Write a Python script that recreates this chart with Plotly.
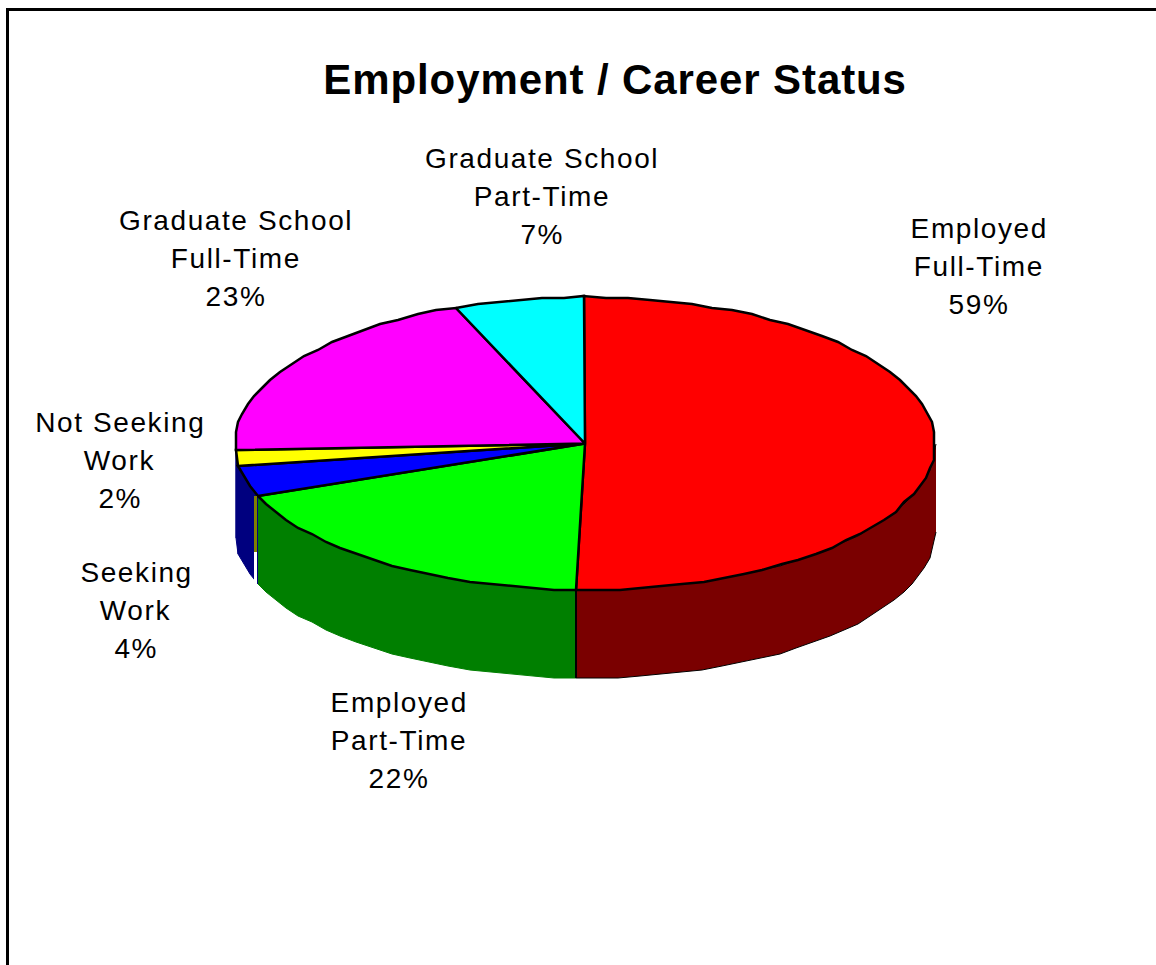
import numpy as np
import plotly.graph_objects as go

# slices clockwise from 12 o'clock, the labels add up to 117 in the source chart
label_lines = [
    ["Employed", "Full-Time"],
    ["Employed", "Part-Time"],
    ["Seeking", "Work"],
    ["Not Seeking", "Work"],
    ["Graduate School", "Full-Time"],
    ["Graduate School", "Part-Time"],
]
percents = [59, 22, 4, 2, 23, 7]
top_colors = ["#ff0000", "#00ff00", "#0000ff", "#ffff00", "#ff00ff", "#00ffff"]
# the wall left of the blue slice stays navy in the source chart
side_colors = ["#7a0000", "#007f00", "#00007f", "#00007f", "#00007f", "#007f7f"]

title_text = "Employment / Career Status"

# where the first line of each label sits, in page pixels
label_pos = [(979, 228), (399, 702), (136, 572), (120, 422), (236, 220), (542, 158)]
line_gap = 38

# pie geometry in page pixels
CX, CY = 585, 443.5
RX, RY = 350, 146.5
DEPTH = 88
STEP = 2  # rim snaps to a coarse grid like the old bitmap
ARC = np.radians(3.5)


def rim_point(t):
    x = CX + RX * np.sin(t)
    y = CY - RY * np.cos(t)
    return np.round(x / STEP) * STEP, np.round(y / STEP) * STEP


def arc(start, end):
    return np.linspace(start, end, max(2, int((end - start) / ARC) + 1))


edges = np.cumsum([0] + percents) / sum(percents) * 2 * np.pi

fig = go.Figure()

# side walls, only the front half of the rim can be seen
for i in range(len(percents)):
    start = max(edges[i], np.pi / 2)
    end = min(edges[i + 1], 3 * np.pi / 2)
    if end <= start:
        continue
    x, y = rim_point(arc(start, end))
    fig.add_trace(go.Scatter(
        x=np.concatenate([x, x[::-1]]),
        y=np.concatenate([y, y[::-1] + DEPTH]),
        mode="lines", fill="toself", fillcolor=side_colors[i],
        line=dict(color="black" if i == 0 else side_colors[i], width=1),
        hoverinfo="skip"))

# top of the pie
for i in range(len(percents)):
    x, y = rim_point(arc(edges[i], edges[i + 1]))
    fig.add_trace(go.Scatter(
        x=np.concatenate([[CX], x, [CX]]),
        y=np.concatenate([[CY], y, [CY]]),
        mode="lines", fill="toself", fillcolor=top_colors[i],
        line=dict(color="black", width=2.5),
        hovertext=" ".join(label_lines[i]), hoverinfo="text"))

# seams on the wall
seam_x, seam_y = rim_point(edges[2])
front_x, front_y = rim_point(edges[1])
shapes = [
    dict(type="line", x0=front_x, x1=front_x, y0=front_y, y1=front_y + DEPTH,
         line=dict(color="black", width=2), layer="above"),
    dict(type="rect", x0=seam_x - 4, x1=seam_x - 1, y0=seam_y, y1=seam_y + 56,
         fillcolor="#7f7f00", line_width=0, layer="above"),
    dict(type="rect", x0=seam_x - 4, x1=seam_x - 1, y0=seam_y + 56, y1=seam_y + 90,
         fillcolor="white", line_width=0, layer="above"),
    dict(type="line", x0=7.5, x1=7.5, y0=8, y1=965, line=dict(color="black", width=3)),
    dict(type="line", x0=6, x1=1156, y0=9.5, y1=9.5, line=dict(color="black", width=3)),
]

annotations = [dict(x=615, y=79, text="<b>%s</b>" % title_text, showarrow=False,
                    font=dict(size=42, color="black"))]
for lines, pct, (lx, ly) in zip(label_lines, percents, label_pos):
    for n, line in enumerate(lines + ["%d%%" % pct]):
        annotations.append(dict(x=lx, y=ly + n * line_gap, text=line, showarrow=False,
                                font=dict(size=28, color="black")))

fig.update_layout(
    width=1156, height=965,
    margin=dict(l=0, r=0, t=0, b=0),
    paper_bgcolor="white", plot_bgcolor="white",
    font=dict(family="Liberation Sans"),
    showlegend=False,
    shapes=shapes,
    annotations=annotations,
    xaxis=dict(range=[0, 1156], visible=False, fixedrange=True),
    yaxis=dict(range=[965, 0], visible=False, fixedrange=True),
)

# the source text is set wider than the font's own spacing
widen_text = """
document.body.style.margin = '0';
document.querySelectorAll('.annotation-text').forEach(function (el) {
    var big = parseFloat(el.style.fontSize) > 30;
    el.style.letterSpacing = big ? '0.9px' : '1.6px';
});
"""

fig.write_html("out.html", post_script=widen_text, config={"displayModeBar": False})
